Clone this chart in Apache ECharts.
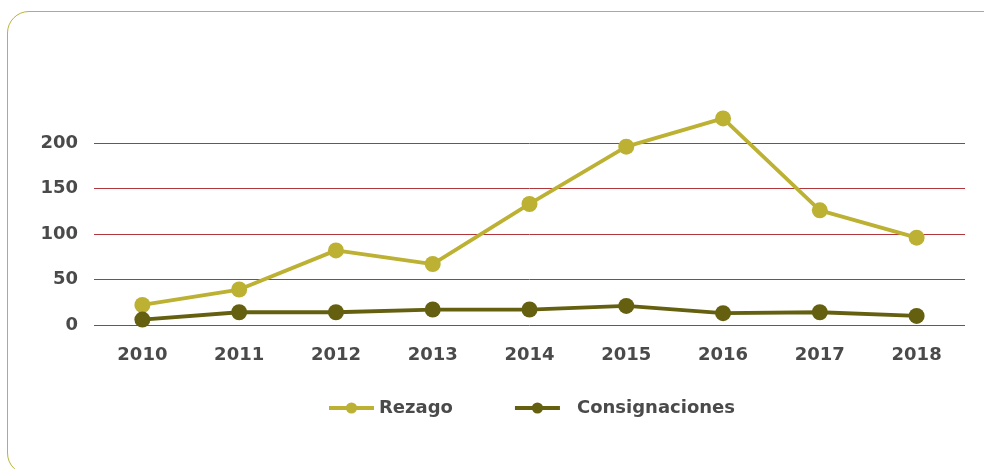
<!DOCTYPE html>
<html>
<head>
<meta charset="utf-8">
<script src="https://cdn.jsdelivr.net/npm/echarts@6/dist/echarts.min.js"></script>
<style>
  html, body { margin: 0; padding: 0; background: #fff; overflow: hidden; }
  .frame {
    position: absolute; left: 7px; top: 11px; width: 1020px; height: 464px;
    border: 1px solid #bbb33c; border-radius: 22px; box-sizing: border-box;
  }
  #chart { position: absolute; left: 0; top: 0; width: 984px; height: 469px; }
</style>
</head>
<body>
<div class="frame"></div>
<div id="chart"></div>
<script>
// años
const years = ['2010', '2011', '2012', '2013', '2014', '2015', '2016', '2017', '2018'];
// series
const rezago = [22, 39, 82, 67, 133, 196, 227, 126, 96];
const consignaciones = [6, 14, 14, 17, 17, 21, 13, 14, 10];
const yTicks = [0, 50, 100, 150, 200];

const chart = echarts.init(document.getElementById('chart'));
const labelFont = {
  color: '#4a4a4a',
  fontFamily: 'DejaVu Sans',
  fontWeight: 'bold',
  fontSize: 18,
};

chart.setOption({
  animation: false,
  grid: { left: 94, right: 19, top: 143, bottom: 144 },
  legend: {
    left: 327,
    top: 399,
    padding: 0,
    itemWidth: 45,
    itemHeight: 14,
    itemGap: 60,
    lineStyle: { width: 4 },
    textStyle: labelFont,
    data: [
      'Rezago',
      // el texto va algo más separado del icono en el original
      { name: 'Consignaciones', textStyle: { padding: [0, 0, 0, 12] } },
    ],
  },
  xAxis: {
    type: 'category',
    data: years,
    axisLine: { show: false },
    axisTick: { show: false },
    axisLabel: Object.assign({ margin: 21 }, labelFont),
  },
  yAxis: {
    type: 'value',
    min: yTicks[0],
    max: yTicks[yTicks.length - 1],
    interval: 50,
    axisLine: { show: false },
    axisTick: { show: false },
    axisLabel: Object.assign({ margin: 16 }, labelFont),
    splitLine: { lineStyle: { color: '#b3363c', width: 1 } },
  },
  series: [
    {
      name: 'Rezago',
      type: 'line',
      data: rezago,
      clip: false,
      symbol: 'circle',
      symbolSize: 16,
      color: '#bcb133',
      lineStyle: { width: 3.8, color: '#bcb133' },
      itemStyle: { color: '#bcb133' },
    },
    {
      name: 'Consignaciones',
      type: 'line',
      data: consignaciones,
      clip: false,
      symbol: 'circle',
      symbolSize: 16,
      color: '#646010',
      lineStyle: { width: 3.8, color: '#646010' },
      itemStyle: { color: '#646010' },
    },
  ],
});
</script>
</body>
</html>
